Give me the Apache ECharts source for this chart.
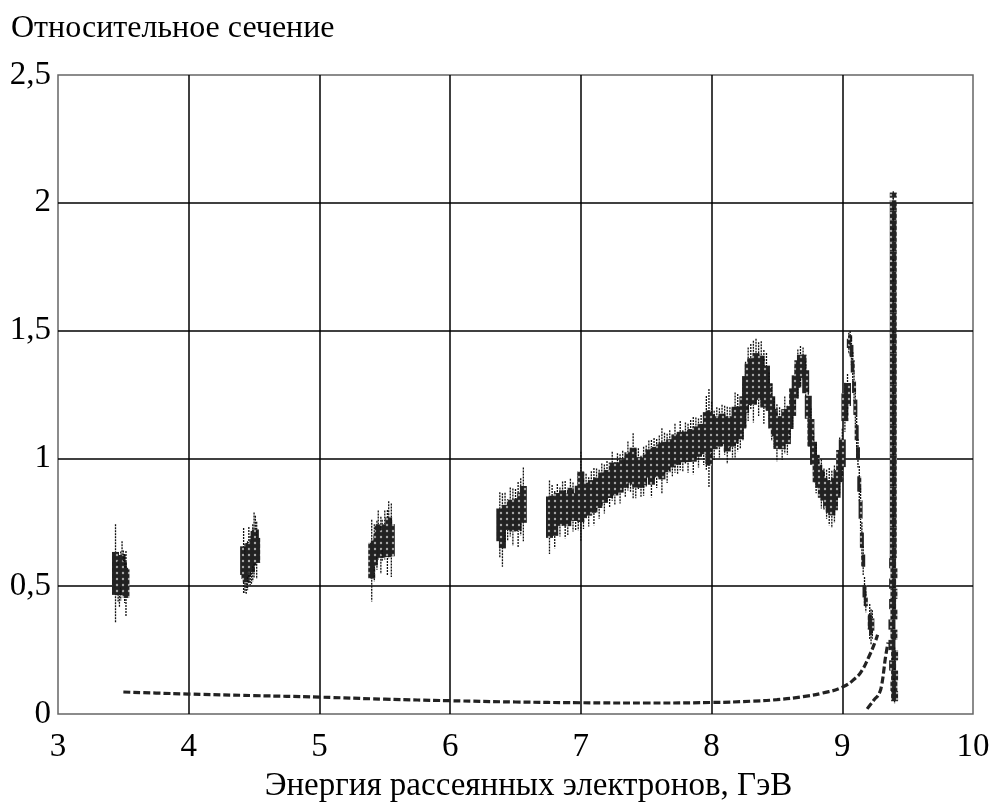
<!DOCTYPE html>
<html>
<head>
<meta charset="utf-8">
<script src="https://cdn.jsdelivr.net/npm/echarts@6/dist/echarts.min.js"></script>
<style>
  html,body{margin:0;padding:0;background:#fff}
  #chart{width:995px;height:805px}
</style>
</head>
<body>
<div id="chart"></div>
<script>
// [energy, cross section, error]
const group35 = [[3.44,0.55,0.12],[3.46,0.52,0.05],[3.47,0.50,0.05],[3.48,0.54,0.06],[3.49,0.58,0.06],
  [3.50,0.56,0.05],[3.51,0.53,0.06],[3.52,0.51,0.08]];
const group45 = [[4.42,0.60,0.08],[4.43,0.57,0.06],[4.44,0.55,0.05],[4.45,0.58,0.06],[4.46,0.62,0.07],
  [4.47,0.60,0.06],[4.48,0.59,0.05],[4.49,0.63,0.07],[4.50,0.66,0.08],[4.51,0.68,0.06],[4.52,0.64,0.07]];
const group55 = [[5.40,0.60,0.10],[5.42,0.63,0.07],[5.44,0.66,0.06],[5.45,0.70,0.06],[5.47,0.66,0.07],
  [5.48,0.68,0.05],[5.50,0.70,0.06],[5.52,0.67,0.08],[5.53,0.72,0.07],[5.55,0.68,0.09]];
const group65 = [[6.38,0.74,0.08],[6.40,0.72,0.09],[6.42,0.77,0.06],[6.44,0.76,0.05],[6.46,0.79,0.06],
  [6.48,0.77,0.07],[6.50,0.80,0.05],[6.52,0.78,0.08],[6.54,0.81,0.07],[6.56,0.82,0.09]];
const groupMain = [
  [6.76,0.77,0.09],[6.78,0.80,0.06],[6.80,0.76,0.07],[6.82,0.82,0.05],[6.84,0.79,0.06],[6.86,0.83,0.05],
  [6.88,0.80,0.07],[6.90,0.78,0.05],[6.92,0.84,0.05],[6.94,0.81,0.06],[6.96,0.80,0.05],[6.98,0.83,0.07],
  [7.00,0.85,0.11],[7.02,0.82,0.06],[7.04,0.86,0.05],[7.06,0.83,0.06],[7.08,0.87,0.05],[7.10,0.85,0.07],
  [7.12,0.88,0.05],[7.14,0.86,0.06],[7.16,0.90,0.05],[7.18,0.88,0.06],[7.20,0.91,0.05],[7.22,0.89,0.05],
  [7.24,0.93,0.06],[7.26,0.90,0.05],[7.28,0.94,0.05],[7.30,0.92,0.06],[7.32,0.95,0.05],[7.34,0.93,0.05],
  [7.36,0.97,0.06],[7.38,0.95,0.05],[7.40,0.97,0.08],[7.42,0.94,0.06],[7.44,0.96,0.05],[7.46,0.93,0.05],
  [7.48,0.95,0.06],[7.50,0.97,0.05],[7.52,0.99,0.05],[7.54,0.96,0.07],[7.56,1.00,0.05],[7.58,0.98,0.06],
  [7.60,1.01,0.05],[7.62,0.99,0.08],[7.64,1.02,0.05],[7.66,1.00,0.06],[7.68,1.03,0.05],[7.70,1.01,0.05],
  [7.72,1.04,0.06],[7.74,1.02,0.05],[7.76,1.05,0.06],[7.78,1.03,0.05],[7.80,1.06,0.05],[7.82,1.04,0.06],
  [7.84,1.07,0.05],[7.86,1.05,0.07],[7.88,1.08,0.05],[7.90,1.06,0.06],[7.92,1.09,0.05],[7.94,1.07,0.06],
  [7.96,1.10,0.09],[7.98,1.08,0.12],[8.00,1.11,0.07],[8.02,1.09,0.06],[8.04,1.12,0.05],[8.06,1.10,0.06],
  [8.08,1.13,0.05],[8.10,1.11,0.06],[8.12,1.09,0.07],[8.14,1.12,0.05],[8.16,1.10,0.06],[8.18,1.13,0.08],
  [8.20,1.14,0.07],[8.22,1.12,0.05],[8.24,1.18,0.07],[8.26,1.25,0.08],[8.28,1.29,0.09],[8.30,1.32,0.08],
  [8.32,1.30,0.10],[8.34,1.34,0.08],[8.36,1.31,0.09],[8.38,1.33,0.08],[8.40,1.28,0.09],[8.42,1.30,0.07],
  [8.44,1.24,0.06],[8.46,1.18,0.07],[8.48,1.14,0.06],[8.50,1.10,0.07],[8.52,1.12,0.05],[8.54,1.09,0.06],
  [8.56,1.13,0.07],[8.58,1.11,0.06],[8.60,1.16,0.05],[8.62,1.22,0.06],[8.64,1.28,0.05],[8.66,1.33,0.06],
  [8.68,1.36,0.05],[8.70,1.37,0.04],[8.72,1.30,0.05],[8.74,1.20,0.05],[8.76,1.10,0.06],[8.78,1.02,0.05],
  [8.80,0.96,0.06],[8.82,0.93,0.05],[8.84,0.90,0.06],[8.86,0.88,0.05],[8.88,0.86,0.06],[8.90,0.85,0.07],
  [8.92,0.84,0.07],[8.94,0.86,0.07],[8.96,0.90,0.06],[8.98,0.97,0.07],[9.00,1.02,0.06],[9.02,1.20,0.06],
  [9.04,1.25,0.05]];
const groupFall = [[9.05,1.45,0.03],[9.06,1.47,0.02],[9.07,1.42,0.04],[9.08,1.36,0.04],[9.09,1.28,0.04],
  [9.10,1.20,0.05],[9.11,1.10,0.05],[9.12,1.02,0.04],[9.13,0.90,0.05],[9.14,0.80,0.06],[9.15,0.68,0.05],
  [9.16,0.60,0.04],[9.17,0.48,0.04],[9.18,0.44,0.03],[9.21,0.36,0.05],[9.22,0.34,0.05],[9.23,0.35,0.04]];
const groupElastic = [[9.39,2.03,0.01],[9.39,1.99,0.02],[9.39,1.95,0.02],[9.39,1.91,0.02],[9.39,1.87,0.02],
  [9.39,1.83,0.02],[9.39,1.79,0.02],[9.39,1.75,0.02],[9.39,1.71,0.02],[9.39,1.67,0.02],[9.39,1.63,0.02],
  [9.39,1.59,0.02],[9.39,1.55,0.02],[9.39,1.51,0.02],[9.39,1.47,0.02],[9.39,1.43,0.02],[9.39,1.39,0.02],
  [9.39,1.35,0.02],[9.39,1.31,0.02],[9.39,1.27,0.02],[9.39,1.23,0.02],[9.39,1.19,0.02],[9.39,1.15,0.02],
  [9.39,1.11,0.02],[9.39,1.07,0.02],[9.39,1.03,0.02],[9.39,0.99,0.02],[9.39,0.95,0.02],[9.39,0.91,0.02],
  [9.39,0.87,0.02],[9.39,0.83,0.02],[9.39,0.79,0.02],[9.39,0.75,0.02],[9.39,0.71,0.02],[9.39,0.67,0.02],
  [9.39,0.63,0.02],[9.385,0.59,0.02],[9.395,0.55,0.02],[9.385,0.51,0.02],[9.395,0.47,0.02],[9.385,0.43,0.02],
  [9.395,0.39,0.02],[9.38,0.35,0.02],[9.395,0.31,0.02],[9.38,0.27,0.02],[9.40,0.23,0.02],[9.385,0.19,0.02],
  [9.40,0.15,0.02],[9.395,0.11,0.02],[9.40,0.07,0.02]];

// dashed curves
const bgX = [3.5,3.75,4.0,4.5,5.0,5.5,6.0,6.5,7.0,7.5,8.0,8.3,8.5,8.7,8.85,9.0,9.1,9.15,9.2,9.25,9.27];
const bgY = [0.086,0.082,0.078,0.072,0.066,0.058,0.052,0.047,0.044,0.043,0.045,0.05,0.056,0.068,0.082,0.105,0.14,0.17,0.22,0.28,0.31];
const tailX = [9.19,9.22,9.25,9.27,9.29,9.30,9.31,9.32,9.33,9.35];
const tailY = [0.02,0.04,0.06,0.07,0.09,0.11,0.14,0.18,0.22,0.28];

const font = "Liberation Serif";

// halftone tile used to fill the point boxes
const tile=document.createElement("canvas");
tile.width=6; tile.height=6;
const tc=tile.getContext("2d");
tc.fillStyle="#222"; tc.fillRect(0,0,6,6);
tc.fillStyle="#a8a8a8"; tc.beginPath(); tc.arc(3,3,1.2,0,Math.PI*2); tc.fill();
const halftone={image:tile,repeat:"repeat"};

function errSeries(data, w, box, whisk){
  return {
    type:"custom",
    data:data,
    encode:{x:0,y:1},
    renderItem:(params,api)=>{
      const x=api.value(0), y=api.value(1), e=api.value(2);
      const c=api.coord([x,y]);
      const hi=api.coord([x,y+e*whisk]), lo=api.coord([x,y-e*whisk]);
      const bt=api.coord([x,y+e*box]), bb=api.coord([x,y-e*box]);
      return {type:"group",children:[
        {type:"line",shape:{x1:c[0],y1:hi[1],x2:c[0],y2:lo[1]},
          style:{stroke:"#111",lineWidth:1.3,lineDash:[2,1]}},
        {type:"rect",shape:{x:c[0]-w/2,y:bt[1],width:w,height:Math.max(3,bb[1]-bt[1])},
          style:{fill:halftone}}
      ]};
    }
  };
}

function dashed(xs, ys){
  return {
    type:"line",
    data:xs.map((x,i)=>[x,ys[i]]),
    showSymbol:false,
    smooth:true,
    lineStyle:{color:"#222",width:3.2,type:[7,3]}
  };
}

const chart=echarts.init(document.getElementById("chart"));
chart.setOption({
  animation:false,
  title:{text:"Относительное сечение",left:6,top:8,
    textStyle:{fontFamily:font,fontSize:32,fontWeight:"normal",color:"#000"}},
  grid:{left:58,right:22,top:75,bottom:91,outerBoundsMode:"none",
    show:true,borderColor:"#666",borderWidth:1.5},
  xAxis:{
    type:"value",min:3,max:10,interval:1,
    name:"Энергия рассеянных электронов, ГэВ",nameLocation:"middle",nameGap:56,
    nameTextStyle:{fontFamily:font,fontSize:33,color:"#000",padding:[0,0,0,26]},
    axisLine:{show:false},axisTick:{show:false},
    axisLabel:{fontFamily:font,fontSize:33,color:"#000",margin:17},
    splitLine:{show:true,showMinLine:false,showMaxLine:false,lineStyle:{color:"#000",width:1.5}}
  },
  yAxis:{
    type:"value",min:0,max:2.5,interval:0.5,
    axisLine:{show:false},axisTick:{show:false},
    axisLabel:{fontFamily:font,fontSize:33,color:"#000",margin:7,
      formatter:v=>String(v).replace(".",",")},
    splitLine:{show:true,showMinLine:false,showMaxLine:false,lineStyle:{color:"#000",width:1.5}}
  },
  series:[
    dashed(bgX,bgY),
    dashed(tailX,tailY),
    errSeries(group35,7,0.7,1.6),
    errSeries(group45,7,0.7,1.6),
    errSeries(group55,7,0.7,1.6),
    errSeries(group65,7,0.8,1.6),
    errSeries(groupMain,7,0.9,1.6),
    errSeries(groupFall,4,0.6,1.4),
    errSeries(groupElastic,7,1.0,1.5)
  ]
});
</script>
</body>
</html>
